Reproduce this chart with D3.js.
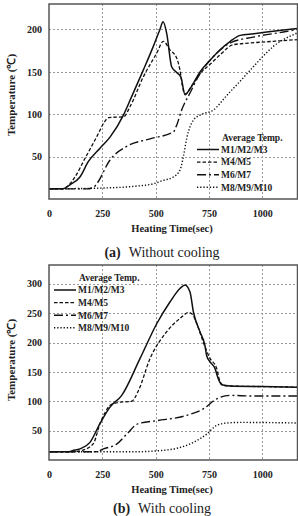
<!DOCTYPE html>
<html>
<head>
<meta charset="utf-8">
<script src="https://cdn.jsdelivr.net/npm/d3@7"></script>
<style>
  body { margin: 0; background: #fff; }
  svg { display: block; }
  svg text { font-family: "Liberation Serif", "Times New Roman", Times, serif !important; fill: #222; }
</style>
</head>
<body>
<div id="chart"></div>
<script>
// Series names, shared by both panels
var seriesNames = ["M1/M2/M3", "M4/M5", "M6/M7", "M8/M9/M10"];
var legendTitle = "Average Temp.";

// Tick values
var xTicks = [0, 250, 500, 750, 1000];
var yTicksA = [50, 100, 150, 200];
var yTicksB = [50, 100, 150, 200, 250, 300];

// (a) Without cooling: time (sec) and temperature (C)
var a_m1_t = [0, 65, 100, 145, 184, 239, 286, 349, 388, 442, 489, 520, 535, 552, 575, 595, 618, 638, 661, 708, 760, 802, 850, 896, 960, 1021, 1090, 1165];
var a_m1_T = [12, 12, 17, 26, 44, 60, 73, 99, 121, 152, 180, 200, 209, 195, 156, 150, 144, 123, 130, 150, 165, 176, 186, 193, 195, 197, 199, 201];
var a_m4_t = [0, 65, 95, 122, 169, 208, 231, 260, 280, 350, 380, 442, 505, 536, 567, 599, 614, 630, 640, 670, 708, 760, 802, 864, 943, 1052, 1165];
var a_m4_T = [12, 12, 17, 26, 48, 66, 77, 91, 96, 97, 109, 144, 172, 186, 176, 166, 152, 128, 124, 134, 148, 160, 170, 182, 184, 186, 188];
var a_m6_t = [0, 180, 210, 224, 286, 364, 474, 583, 600, 622, 661, 708, 771, 849, 958, 1099, 1165];
var a_m6_T = [12, 12, 14, 18, 46, 62, 71, 79, 88, 105, 125, 148, 168, 184, 191, 197, 200];
var a_m8_t = [0, 260, 400, 489, 536, 583, 614, 630, 646, 677, 708, 771, 833, 900, 958, 1052, 1165];
var a_m8_T = [12, 13, 15, 18, 22, 26, 34, 50, 72, 93, 99, 105, 122, 140, 156, 180, 196];

// (b) With cooling
var b_m1_t = [0, 90, 110, 145, 192, 239, 286, 341, 427, 505, 567, 614, 638, 661, 677, 708, 731, 739, 755, 778, 794, 810, 850, 1000, 1165];
var b_m1_T = [14, 14, 16, 19, 30, 62, 90, 110, 173, 232, 269, 292, 298, 286, 252, 218, 195, 178, 167, 156, 138, 128, 126, 125, 124];
var b_m4_t = [0, 110, 160, 208, 239, 262, 286, 325, 388, 419, 474, 551, 614, 655, 672, 700, 723, 755, 786, 802, 820, 850, 1000, 1165];
var b_m4_T = [14, 14, 17, 28, 62, 80, 93, 98, 100, 118, 173, 218, 241, 251, 248, 225, 201, 173, 156, 133, 127, 126, 125, 124];
var b_m6_t = [0, 220, 255, 317, 364, 419, 505, 646, 723, 786, 849, 950, 1165];
var b_m6_T = [14, 14, 19, 27, 44, 62, 67, 76, 87, 104, 110, 109, 109];
var b_m8_t = [0, 400, 520, 600, 677, 739, 786, 833, 900, 1165];
var b_m8_T = [14, 14, 16, 20, 30, 44, 59, 63, 64, 63];

var dashes = [null, "3.5,2", "9,3,2,3", "1.3,1.9"];
var widths = [1.5, 1.3, 1.4, 1.4];

var W = 298, H = 516;
var svg = d3.select("#chart").append("svg")
    .attr("width", W)
    .attr("height", H)
    .attr("font-family", "'Liberation Serif', serif");

function zip(t, T) {
  return t.map(function(d, i) { return {t: d, T: T[i]}; });
}

function drawPanel(p) {
  var x = d3.scaleLinear().domain([0, 1165]).range([p.left, p.right]);
  var y = d3.scaleLinear().domain([0, p.yMax]).range([p.bottom, p.top]);

  var g = svg.append("g");

  // grid as one dashed path
  var gp = d3.path();
  xTicks.slice(1).forEach(function(v) {
    var px = Math.round(x(v)) + 0.5;
    gp.moveTo(px, p.top); gp.lineTo(px, p.bottom);
  });
  p.yTicks.forEach(function(v) {
    var py = Math.round(y(v)) + 0.5;
    gp.moveTo(p.left, py); gp.lineTo(p.right, py);
  });
  g.append("path")
      .attr("d", gp.toString())
      .style("fill", "none")
      .style("stroke", "#999")
      .style("stroke-width", "1px")
      .style("stroke-dasharray", "2,2");

  // tick labels
  var xa = g.append("g")
      .attr("transform", "translate(0," + p.bottom + ")")
      .call(d3.axisBottom(x).tickValues(xTicks).tickSize(0).tickPadding(11).tickFormat(d3.format("d")));
  xa.select(".domain").remove();
  xa.selectAll("text").style("font-size", "10px").style("font-weight", "bold").attr("fill", "#222");

  var ya = g.append("g")
      .attr("transform", "translate(" + p.left + ",0)")
      .call(d3.axisLeft(y).tickValues(p.yTicks).tickSize(0).tickPadding(7).tickFormat(d3.format("d")));
  ya.select(".domain").remove();
  ya.selectAll("text").style("font-size", "10px").style("font-weight", "bold").attr("fill", "#222");

  // curves
  var line = d3.line()
      .x(function(d) { return x(d.t); })
      .y(function(d) { return y(d.T); })
      .curve(d3.curveMonotoneX);

  g.append("defs").append("clipPath").attr("id", "clip" + p.id)
    .append("rect")
      .attr("x", p.left).attr("y", p.top)
      .attr("width", p.right - p.left).attr("height", p.bottom - p.top);

  g.append("g").attr("clip-path", "url(#clip" + p.id + ")")
    .selectAll("path")
    .data(p.series)
    .enter().append("path")
      .attr("d", function(d) { return line(d); })
      .attr("fill", "none")
      .attr("stroke", "#111")
      .attr("stroke-width", function(d, i) { return widths[i]; })
      .attr("stroke-dasharray", function(d, i) { return dashes[i]; });

  // frame
  g.append("rect")
      .attr("x", p.left).attr("y", p.top)
      .attr("width", p.right - p.left).attr("height", p.bottom - p.top)
      .attr("fill", "none")
      .attr("stroke", "#555")
      .attr("stroke-width", 1.5);

  // axis titles
  g.append("text")
      .attr("x", 172).attr("y", p.bottom + 33)
      .attr("text-anchor", "middle")
      .style("font-size", "10.5px").style("font-weight", "bold")
      .text("Heating Time(sec)");

  g.append("text")
      .attr("transform", "translate(15," + p.yTitle + ")rotate(-90)")
      .attr("text-anchor", "middle")
      .style("font-size", "11px").style("font-weight", "bold")
      .text("Temperature (\u2103)");

  // caption
  var cap = g.append("text")
      .attr("x", 162).attr("y", p.captionY)
      .attr("text-anchor", "middle")
      .style("font-size", "14px");
  cap.append("tspan").style("font-weight", "bold").text(p.tag);
  cap.append("tspan").attr("dx", 8).text(p.caption);

  // legend
  var lg = g.append("g");
  lg.append("text")
      .attr("x", p.legX + 25).attr("y", p.legY)
      .attr("dy", "0.35em")
      .style("font-size", "9.5px").style("font-weight", "bold")
      .text(legendTitle);
  var rows = lg.selectAll(".row")
      .data(seriesNames)
      .enter().append("g")
      .attr("transform", function(d, i) { return "translate(" + p.legX + "," + (p.legY + 12 + i * 12.6) + ")"; });
  rows.append("line")
      .attr("x1", 0).attr("x2", 22)
      .attr("stroke", "#111")
      .attr("stroke-width", function(d, i) { return widths[i]; })
      .attr("stroke-dasharray", function(d, i) { return dashes[i]; });
  rows.append("text")
      .attr("x", 24).attr("dy", "0.35em")
      .style("font-size", "9.5px").style("font-weight", "bold")
      .text(function(d) { return d; });
}

drawPanel({
  id: "a", left: 49, right: 297.5, top: 4, bottom: 199, yMax: 230,
  yTicks: yTicksA, yTitle: 95, captionY: 257,
  tag: "(a)", caption: "Without cooling",
  legX: 197, legY: 137.5,
  series: [zip(a_m1_t, a_m1_T), zip(a_m4_t, a_m4_T), zip(a_m6_t, a_m6_T), zip(a_m8_t, a_m8_T)]
});

drawPanel({
  id: "b", left: 49, right: 297.5, top: 265, bottom: 460, yMax: 332,
  yTicks: yTicksB, yTitle: 360, captionY: 513,
  tag: "(b)", caption: "With cooling",
  legX: 54, legY: 278,
  series: [zip(b_m1_t, b_m1_T), zip(b_m4_t, b_m4_T), zip(b_m6_t, b_m6_T), zip(b_m8_t, b_m8_T)]
});
</script>
</body>
</html>
